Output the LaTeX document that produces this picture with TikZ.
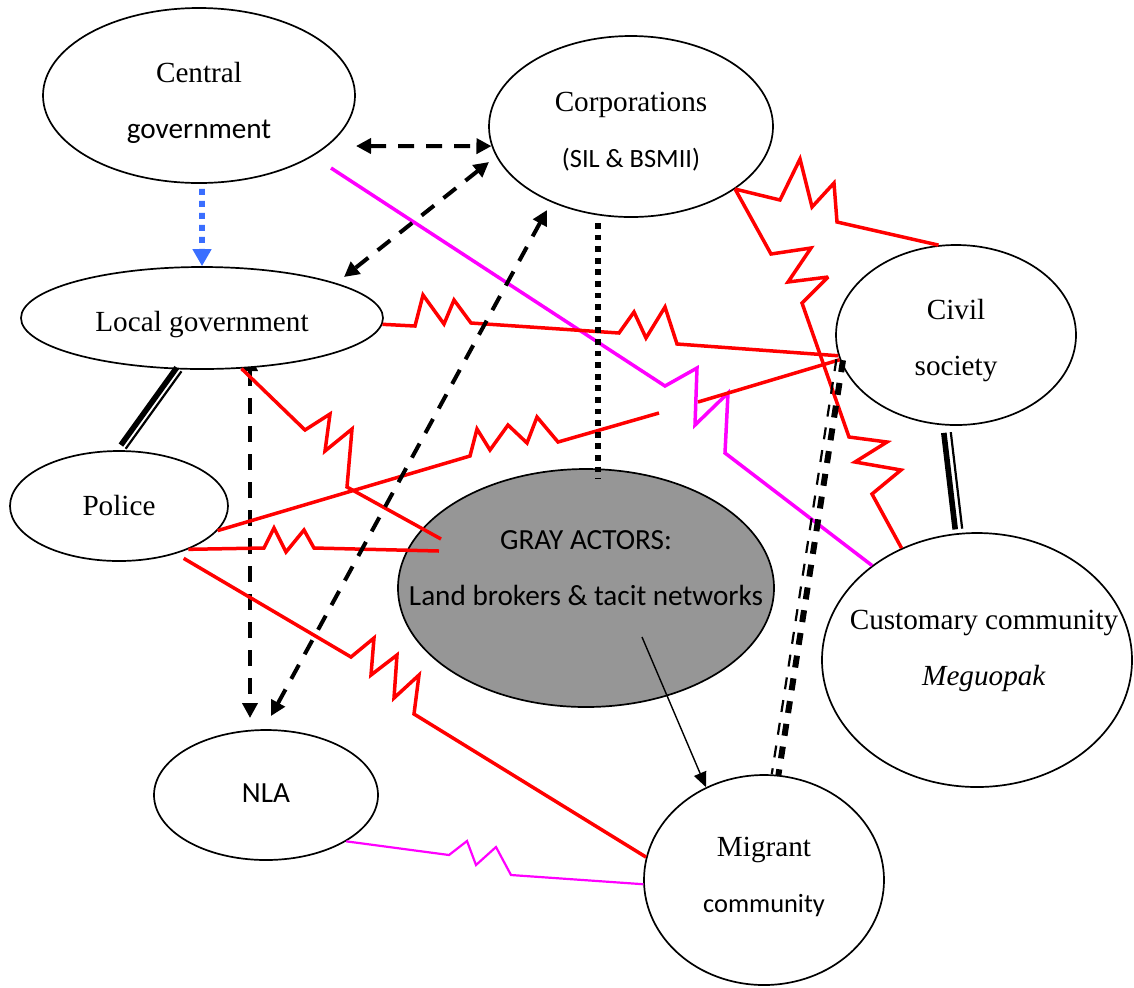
\documentclass[tikz,border=0pt]{standalone}
\usepackage{fontspec}
\setmainfont{Liberation Serif}
\newfontfamily\calib{Carlito}
\usetikzlibrary{shapes.geometric,arrows.meta,calc}
\definecolor{grayact}{RGB}{150,150,150}
\definecolor{blueline}{RGB}{58,110,255}
\definecolor{redline}{RGB}{255,0,0}
\definecolor{magline}{RGB}{255,0,255}
\pgfdeclarelayer{background}
\pgfsetlayers{background,main}
\newcommand{\twolines}[3][0pt]{\makebox[0pt]{\hspace*{#1}\begin{tabular}[b]{@{}c@{}}#2\\#3\end{tabular}}}
\newcommand{\oneline}[1]{\makebox[0pt]{#1}}
\begin{document}
\begin{tikzpicture}[x=0.5pt,y=-0.5pt,
  actor/.style={ellipse, draw=black, line width=0.85pt, fill=white, inner sep=0pt,
    text height=44pt, font=\fontsize{14.6}{28}\selectfont},
  single/.style={text height=20pt},
  dasharrow/.style={draw=black, line width=2pt, dash pattern=on 8pt off 6pt,
    {Triangle[length=7.5pt,width=7.5pt]}-{Triangle[length=7.5pt,width=7.5pt]}},
  bluedot/.style={draw=blueline, line width=2.9pt, dash pattern=on 3pt off 3pt,
    -{Triangle[length=8.5pt,width=9pt]}},
  blackdot/.style={draw=black, line width=2.9pt, dash pattern=on 2.9pt off 2.9pt},
  thinarrow/.style={draw=black, line width=0.7pt, -{Triangle[length=7.5pt,width=6.5pt]}},
  conflict/.style={draw=redline, line width=1.75pt, miter limit=3},
  magconf/.style={draw=magline, line width=1.75pt, miter limit=3},
  magthin/.style={draw=magline, line width=1.1pt, miter limit=3},
  dblthick/.style={draw=black, line width=2.8pt},
  dblthin/.style={draw=black, line width=1.1pt},
  dashthick/.style={draw=black, line width=3pt, dash pattern=on 6pt off 5.5pt},
  dashthin/.style={draw=black, line width=1.1pt, dash pattern=on 6pt off 5.5pt}
]
\useasboundingbox (0,0) rectangle (1134,987);

% actors
\node[actor, minimum width=156pt, minimum height=87.5pt, text depth=1.5pt] (cg) at (199,95.5)
  {\twolines{Central}{{\calib government}}};
\node[actor, minimum width=142pt, minimum height=90.5pt, text depth=3.5pt] (co) at (631,126.5)
  {\twolines{Corporations}{{\calib\fontsize{13.2}{28}\selectfont (SIL \& BSMII)}}};
\node[actor, single, minimum width=181pt, minimum height=51pt, text depth=7pt] (lg) at (202,318)
  {\oneline{Local government}};
\node[actor, single, minimum width=109pt, minimum height=55pt, text depth=11pt] (po) at (119,506)
  {\oneline{Police}};
\node[actor, single, minimum width=112pt, minimum height=65pt, text depth=12.5pt] (nla) at (266,795)
  {\oneline{\calib NLA}};
\node[actor, fill=grayact, minimum width=188pt, minimum height=119pt, text depth=26.5pt] (ga) at (586,588)
  {\twolines{{\calib GRAY ACTORS:}}{{\calib Land brokers \& tacit networks}}};
\node[actor, minimum width=120pt, minimum height=90pt, text depth=4pt] (cs) at (956,335)
  {\twolines{Civil}{society}};
\node[actor, minimum width=155pt, minimum height=127pt, text depth=19pt] (cc) at (977,660)
  {\twolines[7pt]{Customary community}{\textit{Meguopak}}};
\node[actor, minimum width=120pt, minimum height=105pt, text depth=12pt] (mc) at (764,880)
  {\twolines{Migrant}{{\calib\fontsize{13.2}{28}\selectfont community}}};

% free ends
\coordinate (cgA) at (356,146);
\coordinate (coC) at (489,162);
\coordinate (lgC) at (344,277);
\coordinate (coD) at (547,210);
\coordinate (nlaD) at (271,716);
\coordinate (lgE) at (250,356);
\coordinate (nlaE) at (250,718);
\coordinate (coF) at (598,223);
\coordinate (gaF) at (598,479);
\coordinate (gaG) at (642,637);
\coordinate (gaR1) at (441,539);
\coordinate (gaR2) at (439,551);
\coordinate (cgM) at (331,168);

% hidden-headed dashed arrow local government - NLA
\begin{pgfonlayer}{background}
\draw[dasharrow] (lgE) -- (nlaE);
\end{pgfonlayer}

% magenta
\draw[magconf] (cgM) -- (665,386) -- (697,368) -- (695,425) -- (728,393) -- (725,453) -- (cc.138.7);
\draw[magthin] (nla.-30.9) -- (449,855) -- (467,841) -- (476,865) -- (496,847) -- (511,875) -- (mc.182.9);

% red conflict lines
\draw[conflict] (co.-31) -- (780,200) -- (800,159) -- (812,207) -- (834,183) -- (837,222) -- (cs.101.2);
\draw[conflict] (co.-31) -- (771,254) -- (811,248) -- (788,282) -- (828,277) -- (802,303) -- (849,437)
  -- (887,442) -- (855,462) -- (901,470) -- (872,494) -- (cc.124);
\draw[conflict] (lg.-2.9) -- (415,326) -- (423,295) -- (444,324) -- (454,300) -- (471,323) -- (619,333)
  -- (634,312) -- (646,338) -- (665,307) -- (677,344) -- (cs.190);
\draw[conflict] (po.-14.7) -- (470,456) -- (477,429) -- (490,450) -- (508,425) -- (527,443) -- (537,417)
  -- (558,442) -- (659,413) (698,402) -- (cs.192.8);
\draw[conflict] (lg.-52) -- (305,430) -- (330,414) -- (325,451) -- (352,429) -- (347,487) -- (gaR1);
\draw[conflict] (po.-32.7) -- (264,548) -- (274,528) -- (286,552) -- (304,530) -- (314,548) -- (gaR2);
\draw[conflict, shorten <=4.5pt] (po.-40.8) -- (351,657) -- (374,638) -- (371,675) -- (397,655)
  -- (394,698) -- (419,675) -- (414,714) -- (mc.169.3);

% black dashed arrows
\draw[dasharrow] (cgA) -- (co.188);
\draw[dasharrow] (coC) -- (lgC);
\draw[dasharrow] (coD) -- (nlaD);

% blue dotted arrow
\draw[bluedot, shorten <=2.5pt] (cg.-88) -- (lg.north);

% dotted corporations - gray actors
\draw[blackdot] (coF) -- (gaF);

% thin arrow gray actors -> migrant
\draw[thinarrow] (gaG) -- (mc.122.5);

% double lines
\draw[dblthick, transform canvas={shift={(-1.18pt,0.93pt)}}, shorten >=2pt] (lg.246) -- (po.88);
\draw[dblthin, transform canvas={shift={(1.18pt,-0.93pt)}}, shorten >=2pt] (lg.246) -- (po.88);
\draw[dblthick, transform canvas={shift={(-1.74pt,-0.19pt)}}, shorten <=3.5pt, shorten >=2pt] (cs.264.4) -- (cc.98.5);
\draw[dblthin, transform canvas={shift={(1.74pt,0.19pt)}}, shorten <=3.5pt, shorten >=2pt] (cs.264.4) -- (cc.98.5);

% double dashed civil society - migrant
\draw[dashthick, transform canvas={shift={(1.65pt,-0.25pt)}}] (cs.192) -- (mc.84);
\draw[dashthin, transform canvas={shift={(-1.65pt,0.25pt)}}] (cs.192) -- (mc.84);
\end{tikzpicture}
\end{document}
